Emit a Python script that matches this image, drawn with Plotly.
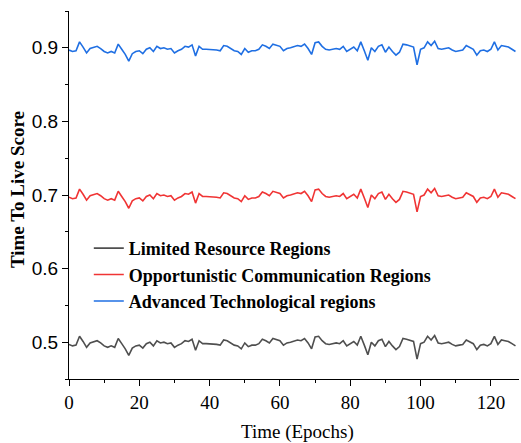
import plotly.graph_objects as go

epochs = list(range(128))

advanced = [
    0.897, 0.895, 0.896, 0.908, 0.901, 0.893, 0.899, 0.901, 0.902, 0.899,
    0.895, 0.893, 0.895, 0.893, 0.905, 0.898, 0.891, 0.882, 0.892, 0.895,
    0.896, 0.892, 0.898, 0.900, 0.895, 0.902, 0.899, 0.900, 0.898, 0.899,
    0.893, 0.896, 0.898, 0.902, 0.901, 0.904, 0.889, 0.902, 0.898, 0.898,
    0.898, 0.897, 0.897, 0.896, 0.903, 0.902, 0.899, 0.896, 0.895, 0.891,
    0.899, 0.894, 0.896, 0.896, 0.898, 0.904, 0.902, 0.899, 0.905, 0.904,
    0.902, 0.896, 0.899, 0.900, 0.902, 0.903, 0.902, 0.905, 0.899, 0.891,
    0.907, 0.908, 0.902, 0.898, 0.897, 0.898, 0.899, 0.898, 0.902, 0.895,
    0.898, 0.901, 0.896, 0.908, 0.896, 0.883, 0.900, 0.895, 0.902, 0.904,
    0.894, 0.901, 0.895, 0.890, 0.894, 0.905, 0.904, 0.903, 0.901, 0.877,
    0.898, 0.900, 0.908, 0.903, 0.909, 0.899, 0.898, 0.899, 0.900, 0.897,
    0.895, 0.896, 0.897, 0.903, 0.901, 0.898, 0.890, 0.896, 0.897, 0.895,
    0.898, 0.908, 0.897, 0.903, 0.902, 0.901, 0.898, 0.895,
]

opportunistic = [
    0.697, 0.695, 0.696, 0.708, 0.701, 0.693, 0.699, 0.701, 0.702, 0.699,
    0.695, 0.693, 0.695, 0.693, 0.705, 0.698, 0.691, 0.682, 0.692, 0.695,
    0.696, 0.692, 0.698, 0.700, 0.695, 0.702, 0.699, 0.700, 0.698, 0.699,
    0.693, 0.696, 0.698, 0.702, 0.701, 0.704, 0.689, 0.702, 0.698, 0.698,
    0.698, 0.697, 0.697, 0.696, 0.703, 0.702, 0.699, 0.696, 0.695, 0.691,
    0.699, 0.694, 0.696, 0.696, 0.698, 0.704, 0.702, 0.699, 0.705, 0.704,
    0.702, 0.696, 0.699, 0.700, 0.702, 0.703, 0.702, 0.705, 0.699, 0.691,
    0.707, 0.708, 0.702, 0.698, 0.697, 0.698, 0.699, 0.698, 0.702, 0.695,
    0.698, 0.701, 0.696, 0.708, 0.696, 0.683, 0.700, 0.695, 0.702, 0.704,
    0.694, 0.701, 0.695, 0.690, 0.694, 0.705, 0.704, 0.703, 0.701, 0.677,
    0.698, 0.700, 0.708, 0.703, 0.709, 0.699, 0.698, 0.699, 0.700, 0.697,
    0.695, 0.696, 0.697, 0.703, 0.701, 0.698, 0.690, 0.696, 0.697, 0.695,
    0.698, 0.708, 0.697, 0.703, 0.702, 0.701, 0.698, 0.695,
]

limited = [
    0.497, 0.495, 0.496, 0.508, 0.501, 0.493, 0.499, 0.501, 0.502, 0.499,
    0.495, 0.493, 0.495, 0.493, 0.505, 0.498, 0.491, 0.482, 0.492, 0.495,
    0.496, 0.492, 0.498, 0.500, 0.495, 0.502, 0.499, 0.500, 0.498, 0.499,
    0.493, 0.496, 0.498, 0.502, 0.501, 0.504, 0.489, 0.502, 0.498, 0.498,
    0.498, 0.497, 0.497, 0.496, 0.503, 0.502, 0.499, 0.496, 0.495, 0.491,
    0.499, 0.494, 0.496, 0.496, 0.498, 0.504, 0.502, 0.499, 0.505, 0.504,
    0.502, 0.496, 0.499, 0.500, 0.502, 0.503, 0.502, 0.505, 0.499, 0.491,
    0.507, 0.508, 0.502, 0.498, 0.497, 0.498, 0.499, 0.498, 0.502, 0.495,
    0.498, 0.501, 0.496, 0.508, 0.496, 0.483, 0.500, 0.495, 0.502, 0.504,
    0.494, 0.501, 0.495, 0.490, 0.494, 0.505, 0.504, 0.503, 0.501, 0.477,
    0.498, 0.500, 0.508, 0.503, 0.509, 0.499, 0.498, 0.499, 0.500, 0.497,
    0.495, 0.496, 0.497, 0.503, 0.501, 0.498, 0.490, 0.496, 0.497, 0.495,
    0.498, 0.508, 0.497, 0.503, 0.502, 0.501, 0.498, 0.495,
]

series_names = [
    "Limited Resource Regions",
    "Opportunistic Communication Regions",
    "Advanced Technological regions",
]
series_values = [limited, opportunistic, advanced]
series_colors = ["#4f4f4f", "#f03434", "#1f6fe3"]

x_tick_vals = [0, 20, 40, 60, 80, 100, 120]
y_tick_vals = [0.5, 0.6, 0.7, 0.8, 0.9]

fig = go.Figure()
for name, vals, col in zip(series_names, series_values, series_colors):
    fig.add_trace(go.Scatter(
        x=epochs, y=vals, mode="lines", name=name,
        line=dict(color=col, width=1.6),
    ))

fig.update_layout(
    width=521, height=443,
    margin=dict(l=69, r=2, t=11, b=64),
    plot_bgcolor="white", paper_bgcolor="white",
    showlegend=True,
    legend=dict(
        x=0.044, y=0.405, xanchor="left", yanchor="top",
        bgcolor="rgba(0,0,0,0)",
        font=dict(family="Liberation Serif", size=18, color="black", weight="bold"),
    ),
    annotations=[
        dict(
            text="Time To Live Score", textangle=-90,
            xref="paper", yref="paper", x=-0.1156, y=0.516,
            xanchor="center", yanchor="middle", showarrow=False,
            font=dict(family="Liberation Serif", size=19, color="black", weight="bold"),
        ),
        dict(
            text="Time (Epochs)",
            xref="paper", yref="paper", x=0.508, y=-0.144,
            xanchor="center", yanchor="middle", showarrow=False,
            font=dict(family="Liberation Serif", size=19, color="black"),
        ),
    ],
)

fig.update_xaxes(
    range=[0, 128], tickvals=x_tick_vals,
    showgrid=False, zeroline=False,
    showline=True, linecolor="black", linewidth=1.3,
    ticks="outside", ticklen=6, tickwidth=1.3, tickcolor="black",
    minor=dict(ticks="outside", ticklen=3, tickwidth=1.2, tickcolor="black", dtick=10, showgrid=False),
    tickfont=dict(family="Liberation Serif", size=19, color="black"),
)

fig.update_yaxes(
    range=[0.45, 0.95], tickvals=y_tick_vals, tickformat=".1f",
    showgrid=False, zeroline=False,
    showline=True, linecolor="black", linewidth=1.3,
    ticks="outside", ticklen=6, tickwidth=1.3, tickcolor="black",
    minor=dict(ticks="outside", ticklen=3, tickwidth=1.2, tickcolor="black", dtick=0.05, showgrid=False),
    tickfont=dict(family="Liberation Sans", size=19, color="black"),
)

fig.write_html("out.html")
